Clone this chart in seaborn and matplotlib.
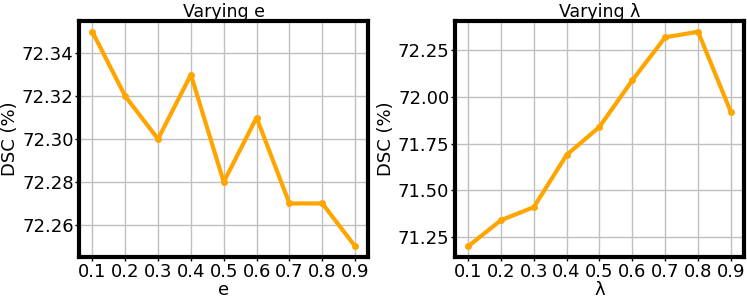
import matplotlib
matplotlib.use("Agg")
import matplotlib.pyplot as plt
import seaborn as sns
import pandas as pd

params = [0.1, 0.2, 0.3, 0.4, 0.5, 0.6, 0.7, 0.8, 0.9]
dsc_e = [72.35, 72.32, 72.30, 72.33, 72.28, 72.31, 72.27, 72.27, 72.25]
dsc_lambda = [71.20, 71.34, 71.41, 71.69, 71.84, 72.09, 72.32, 72.35, 71.92]
tick_labels = ["0.1", "0.2", "0.3", "0.4", "0.5", "0.6", "0.7", "0.8", "0.9"]

sns.set_style("whitegrid", {"text.color": "black", "axes.labelcolor": "black",
                            "xtick.color": "black", "ytick.color": "black"})
plt.rcParams['font.family'] = ['DejaVu Sans']
plt.rcParams['font.sans-serif'] = ['DejaVu Sans']

fig = plt.figure(figsize=(7.47, 3.0), dpi=100)
ax1 = fig.add_axes([0.106, 0.143, 0.387, 0.787])
ax2 = fig.add_axes([0.609, 0.143, 0.387, 0.787])

panels = [
    (ax1, dsc_e, "Varying e", "e", [72.26, 72.28, 72.30, 72.32, 72.34]),
    (ax2, dsc_lambda, "Varying λ", "λ", [71.25, 71.50, 71.75, 72.00, 72.25]),
]

for ax, vals, title, xlabel, yticks in panels:
    df = pd.DataFrame({"x": params, "y": vals})
    sns.lineplot(data=df, x="x", y="y", ax=ax, color="#FFA500", linewidth=3,
                 marker="o", markersize=5, markeredgewidth=0)
    ax.set_xticks(params)
    ax.set_xticklabels(tick_labels)
    ax.set_yticks(yticks)
    ax.set_yticklabels(["{:.2f}".format(v) for v in yticks])
    ax.tick_params(axis="both", labelsize=13, pad=1, length=3, width=1,
                   color="black", labelcolor="black", direction="out",
                   bottom=True, left=True)
    ax.set_title(title, fontsize=12.5, pad=3, color="black")
    ax.set_xlabel(xlabel, fontsize=13, labelpad=0, color="black")
    ax.set_ylabel("DSC (%)", fontsize=13, labelpad=2, color="black")
    ax.grid(True, color="#c0c0c0", linewidth=1)
    for s in ax.spines.values():
        s.set_color("black")
        s.set_linewidth(3)
    ax.set_facecolor("white")

fig.savefig("out.png", dpi=100)
